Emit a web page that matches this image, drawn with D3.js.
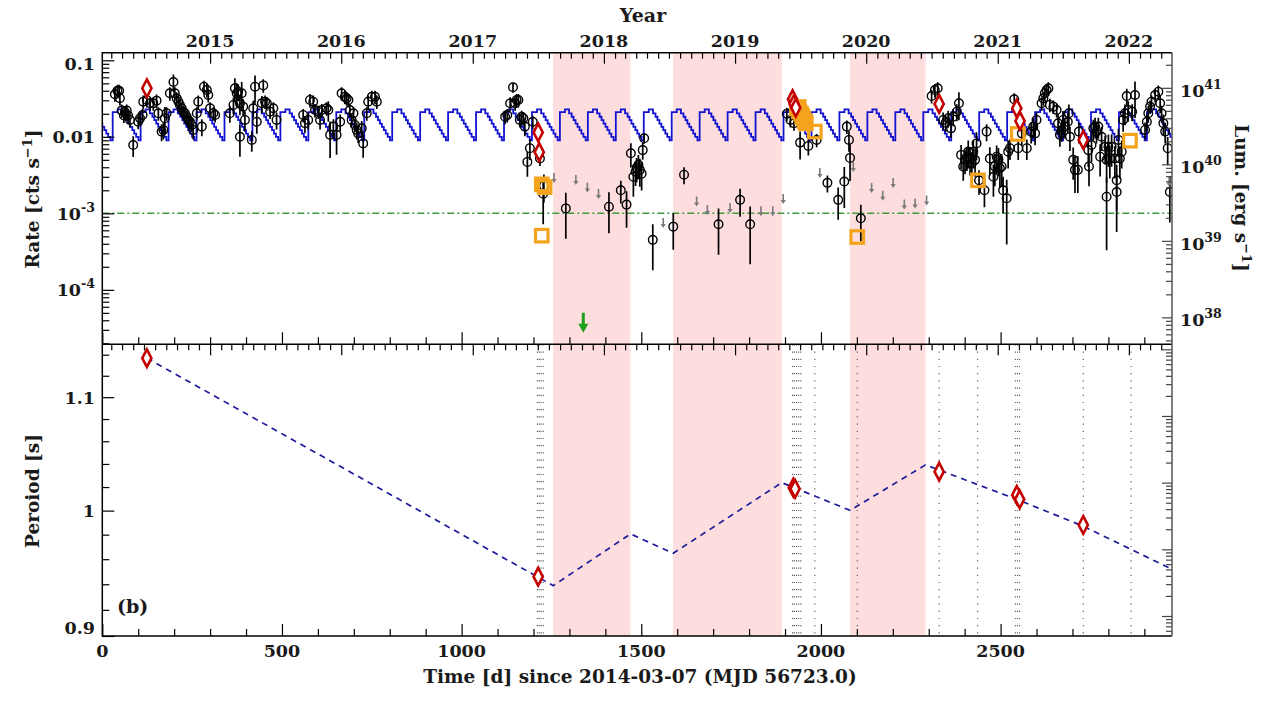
<!DOCTYPE html>
<html><head><meta charset="utf-8">
<script src="https://cdn.jsdelivr.net/npm/d3@7"></script>
<style>
body{margin:0;background:#fff}
svg text{font-family:"DejaVu Serif",serif;font-weight:bold;fill:#1a1a1a}
</style>
</head><body>
<svg id="chart" width="1271" height="704"></svg>
<script>
// ---------------- data ----------------
const dayDomain = [0, 2977];
const rateDomain = [1.941e-5, 0.1257];
const lumDomain = [4.446e37, 2.877e41];
const periodDomain = [0.9, 1.15];
const auxDomain = [0.501, 11885];
const startDateUTC = [2014, 2, 7];
const xMajorTicks = [0, 500, 1000, 1500, 2000, 2500];
const xMinorStep = 100;
const rateMajorTicks = [0.1, 0.01, 1e-3, 1e-4];
const rateTickLabels = ["0.1", "0.01", "10^-3", "10^-4"];
const lumMajorTicks = [1e41, 1e40, 1e39, 1e38];
const lumTickLabels = ["10^41", "10^40", "10^39", "10^38"];
const periodTicks = [0.90,0.92,0.94,0.96,0.98,1.00,1.02,1.04,1.06,1.08,1.10,1.12,1.14];
const periodMajorTicks = [0.9, 1.0, 1.1];
const periodTickLabels = ["0.9", "1", "1.1"];
const thresholdRate = 1e-3;
const shadedIntervals = [[1255,1470],[1589,1891],[2081,2291]];

// [day, rate, relative error]
const detections = [
[35,0.036,.2],[42,0.040,.2],[47,0.040,.2],[49,0.032,.2],[54,0.022,.2],[60,0.019,.2],[63,0.021,.2],[68,0.022,.2],[72,0.019,.2],[77,0.0166,.2],[86,0.0078,.3],[100,0.0157,.2],[105,0.0175,.2],[112,0.0193,.2],[114,0.0288,.2],[124,0.0303,.2],[133,0.0274,.2],[142,0.0274,.2],[151,0.0297,.2],[156,0.0203,.2],[165,0.0117,.25],[170,0.0123,.25],[174,0.0175,.4],[179,0.0203,.2],[188,0.0371,.2],[198,0.052,.25],[202,0.0371,.2],[207,0.0318,.2],[212,0.0288,.2],[216,0.0261,.2],[221,0.0236,.2],[225,0.0213,.2],[230,0.0203,.2],[235,0.0183,.2],[239,0.0166,.2],[244,0.0157,.2],[249,0.0143,.2],[253,0.0123,.25],[263,0.0203,.2],[267,0.0288,.2],[277,0.0136,.25],[283,0.0452,.2],[291,0.0409,.2],[295,0.0352,.2],[300,0.0236,.2],[309,0.0203,.2],[314,0.0193,.2],
[355,0.0203,.25],[365,0.0261,.25],[369,0.0431,.35],[374,0.0371,.35],[378,0.0389,.25],[383,0.0274,.3],[383,0.0100,.45],[388,0.0371,.4],[392,0.0248,.25],[397,0.0166,.3],[416,0.0091,.3],[420,0.0236,.25],[425,0.0452,.4],[430,0.0157,.3],[444,0.0274,.25],[448,0.047,.2],[453,0.0288,.2],[458,0.0274,.2],[467,0.0213,.2],[476,0.0236,.2],[485,0.0166,.25],
[559,0.0193,.2],[564,0.0150,.25],[573,0.0166,.25],[578,0.0303,.2],[587,0.0288,.2],[592,0.0224,.2],[601,0.0213,.2],[606,0.0166,.25],[611,0.0224,.2],[624,0.0236,.2],[629,0.0224,.3],[634,0.0106,.5],[643,0.0136,.25],[652,0.0106,.45],[662,0.0157,.25],[666,0.0371,.2],[675,0.0334,.2],[680,0.0318,.2],[685,0.0303,.2],[689,0.0224,.2],[694,0.0166,.2],[699,0.0203,.2],[703,0.0143,.2],[708,0.0123,.25],[712,0.0111,.25],[722,0.0129,.25],[726,0.0082,.35],[736,0.0203,.2],[740,0.0288,.2],[750,0.0334,.2],[759,0.0334,.2],[764,0.0288,.2],
[1121,0.0183,.2],[1127,0.0193,.2],[1135,0.0274,.2],[1143,0.0444,.15],[1149,0.0274,.2],[1153,0.0303,.2],[1158,0.0303,.2],[1162,0.0166,.2],[1167,0.0183,.2],[1172,0.0175,.2],[1176,0.0136,.25],[1183,0.0047,.36],[1190,0.0071,.3],[1198,0.0157,.2],[1218,0.0052,.2],[1227,0.0018,.6],[1229,0.0023,.4],
[1290,0.00116,.6],[1410,0.00122,.55],[1443,0.0020,.33],[1459,0.0013,.5],[1471,0.0061,.35],[1478,0.0030,.45],[1484,0.0035,.35],[1487,0.0039,.35],[1492,0.0043,.35],[1496,0.0037,.4],[1501,0.0033,.4],[1504,0.0067,.25],[1508,0.00955,.15],[1532,0.00045,.6],[1589,0.00067,.5],[1619,0.0032,.25],[1715,0.00072,.6],[1775,0.0015,.4],[1803,0.00072,.7],
[1905,0.0200,.2],[1915,0.0166,.2],[1925,0.0150,.2],[1942,0.0084,.4],[1965,0.0076,.25],[1988,0.0091,.2],[2018,0.0025,.25],[2048,0.0015,.45],[2065,0.0026,.55],[2072,0.0136,.2],[2078,0.0091,.3],[2081,0.0053,.5],[2111,0.00086,.5],
[2308,0.0341,.2],[2317,0.0409,.2],[2325,0.0431,.2],[2340,0.0166,.25],[2347,0.0153,.25],[2354,0.0175,.25],[2362,0.0129,.25],[2368,0.0183,.25],[2378,0.0213,.25],[2384,0.0274,.4],[2390,0.0058,.35],[2396,0.0041,.35],[2401,0.0050,.35],[2406,0.0055,.35],[2410,0.0064,.4],[2415,0.0052,.4],[2420,0.0045,.4],[2424,0.0064,.4],[2429,0.0050,.4],[2433,0.0082,.4],[2440,0.0027,.35],[2455,0.0020,.4],[2461,0.0117,.25],[2470,0.0052,.4],[2480,0.0030,.45],[2484,0.0041,.45],[2489,0.0055,.4],[2494,0.0051,.4],[2498,0.0039,.45],[2503,0.0041,.45],[2507,0.0020,.5],[2517,0.00157,.75],[2521,0.0064,.4],[2526,0.0071,.3],[2538,0.0309,.2],[2549,0.0071,.3],[2559,0.0111,.3],[2573,0.0071,.3],[2585,0.0117,.3],[2591,0.0136,.3],[2596,0.0111,.3],[2600,0.0166,.25],[2614,0.0274,.2],[2619,0.0318,.2],[2623,0.0371,.2],[2628,0.0409,.2],[2633,0.0431,.2],[2637,0.0261,.2],[2647,0.0248,.2],[2656,0.0224,.2],[2660,0.0150,.3],[2665,0.0106,.3],[2670,0.0123,.3],[2674,0.0166,.3],[2679,0.0136,.3],[2687,0.0157,.3],[2690,0.0203,.3],[2693,0.0100,.35],[2702,0.0050,.45],[2707,0.0037,.5],[2715,0.0037,.5],[2718,0.0117,.3],[2744,0.0067,.4],[2746,0.0041,.45],[2753,0.0078,.4],[2758,0.0129,.3],[2763,0.0136,.3],[2767,0.0117,.3],[2772,0.0136,.3],[2777,0.0055,.45],[2781,0.0100,.35],[2791,0.0074,.4],[2795,0.0050,.5],[2795,0.00165,.8],[2800,0.0074,.45],[2804,0.0052,.45],[2809,0.0074,.45],[2818,0.0052,.45],[2823,0.0027,.6],[2823,0.0019,.7],[2828,0.0091,.4],[2832,0.0052,.45],[2837,0.0064,.4],[2841,0.0166,.3],[2846,0.0203,.3],[2851,0.0341,.25],[2855,0.0224,.3],[2866,0.0213,.25],[2874,0.0352,.5],[2902,0.0123,.25],[2907,0.0157,.25],[2911,0.0203,.25],[2916,0.0248,.2],[2920,0.0288,.2],[2930,0.0352,.2],[2939,0.0389,.2],[2944,0.0274,.25],[2948,0.0203,.25],[2953,0.0150,.3],[2958,0.0117,.3],[2965,0.0071,.4],[2971,0.0019,.6]
];
// upper limits [day, rate]
const upperLimits = [[1257,0.00336],[1318,0.00316],[1350,0.00253],[1381,0.00208],[1561,0.00087],[1654,0.00166],[1684,0.00128],[1747,0.00136],[1833,0.00124],[1866,0.00124],[1895,0.00179],[1997,0.00391],[2090,0.00469],[2141,0.00249],[2172,0.00197],[2201,0.00289],[2232,0.00151],[2262,0.00156],[2294,0.00171],[2969,0.0030]];
// orange squares [day, rate]
const squares = [[1223,0.00239],[1231,0.0022],[1223,0.00051],[1933,0.0235],[1938,0.0245],[1940,0.0215],[1945,0.0200],[1948,0.0185],[1951,0.0175],[1955,0.0160],[1958,0.0150],[1983,0.0117],[2101,0.00049],[2437,0.0027],[2548,0.0109],[2860,0.0089]];
// pulsation detections, rate [day, rate]
const pulsRate = [[124,0.0431],[1213,0.0114],[1216,0.0063],[1921,0.031],[1925,0.027],[1930,0.024],[2329,0.0269],[2545,0.0236],[2554,0.0161],[2730,0.0091]];
// pulsation periods [day, period s]
const periods = [[124,1.1367],[1213,0.9460],[1923,1.0195],[1928,1.0185],[2329,1.0333],[2545,1.0133],[2553,1.0095],[2730,0.988]];
const periodModel = [[124,1.1367],[1255,0.9389],[1470,0.9806],[1589,0.9648],[1891,1.0238],[2081,1.0002],[2291,1.0392],[2545,1.0095],[2730,0.987],[2977,0.9519]];
const obsDays = [1211,1216,1221,1227,1921,1926,1932,1938,1944,1983,2101,2329,2436,2541,2547,2553,2730,2863];
// superorbital model: one cycle of the step curve [phase, rate]
const modelCycleShape = [[0,0.0210],[0.18,0.0228],[0.33,0.0203],[0.42,0.0183],[0.49,0.0165],[0.56,0.0149],[0.63,0.0135],[0.70,0.0122],[0.77,0.0110],[0.84,0.0100],[0.92,0.0090]];
const modelPeriod = 77.79, modelEpoch = 28.9;
const lowLimit = [1338.6, 5e-5];

// ---------------- layout ----------------
const X0 = 102.3, X1 = 1172, YT0 = 52.7, YT1 = 344.3, YB1 = 636;
const svg = d3.select("#chart");
const x = d3.scaleLinear().domain(dayDomain).range([X0, X1]);
const t0 = Date.UTC(...startDateUTC);
const xDate = d3.scaleUtc().domain([new Date(t0), new Date(t0 + dayDomain[1]*864e5)]).range([X0, X1]);
const yR = d3.scaleLog().domain(rateDomain).range([YT1, YT0]);
const yL = d3.scaleLog().domain(lumDomain).range([YT1, YT0]);
const yP = d3.scaleLog().domain(periodDomain).range([YB1, YT1]);
const yA = d3.scaleLog().domain(auxDomain).range([YB1, YT1]);

const defs = svg.append("defs");
defs.append("clipPath").attr("id","clipT").append("rect").attr("x",X0).attr("y",YT0).attr("width",X1-X0).attr("height",YT1-YT0);
defs.append("clipPath").attr("id","clipB").append("rect").attr("x",X0).attr("y",YT1).attr("width",X1-X0).attr("height",YB1-YT1);

const gT = svg.append("g").attr("clip-path","url(#clipT)");
const gB = svg.append("g").attr("clip-path","url(#clipB)");

// shading
[gT, gB].forEach((g,i) => {
  const y0 = i===0 ? YT0 : YT1, y1 = i===0 ? YT1 : YB1;
  g.selectAll("rect.sh").data(shadedIntervals).join("rect").attr("class","sh")
    .attr("x", d => x(d[0])).attr("width", d => x(d[1]) - x(d[0]))
    .attr("y", y0).attr("height", y1 - y0).attr("fill", "#fddddd");
});

// threshold line
gT.append("line").attr("x1",X0).attr("x2",X1).attr("y1",yR(thresholdRate)).attr("y2",yR(thresholdRate))
  .attr("stroke","#3f9a3f").attr("stroke-width",1.4).attr("stroke-dasharray","7,3,2,3");

// superorbital model step curve
const modelPts = [];
for (let k = -1; k <= Math.ceil(dayDomain[1]/modelPeriod)+1; k++) {
  modelCycleShape.forEach(([ph, r]) => modelPts.push([modelEpoch + (k + ph)*modelPeriod, r]));
}
gT.append("path").datum(modelPts)
  .attr("d", d3.line().x(d => x(d[0])).y(d => yR(d[1])).curve(d3.curveStepAfter))
  .attr("fill","none").attr("stroke","#1212d2").attr("stroke-width",1.8);

// detections: error bars + open circles
gT.selectAll("line.err").data(detections).join("line").attr("class","err")
  .attr("x1", d => x(d[0])).attr("x2", d => x(d[0]))
  .attr("y1", d => yR(d[1]*(1+d[2]))).attr("y2", d => yR(Math.max(d[1]*(1-d[2]), 1e-6)))
  .attr("stroke","#000").attr("stroke-width",1.7);
gT.selectAll("circle.det").data(detections).join("circle").attr("class","det")
  .attr("cx", d => x(d[0])).attr("cy", d => yR(d[1])).attr("r", 4.3)
  .attr("fill","none").attr("stroke","#000").attr("stroke-width",1.4);

// upper limits
const ul = gT.selectAll("g.ul").data(upperLimits).join("g").attr("class","ul")
  .attr("transform", d => `translate(${x(d[0])},${yR(d[1])})`);
ul.append("line").attr("y1",0).attr("y2",7).attr("stroke","#7a7a7a").attr("stroke-width",1.6);
ul.append("path").attr("d","M-2.6,6 L2.6,6 L0,10 Z").attr("fill","#7a7a7a");

// low-state limit (green arrow)
const ga = gT.append("g").attr("transform", `translate(${x(lowLimit[0])},${yR(lowLimit[1])})`);
ga.append("line").attr("y1",0).attr("y2",13).attr("stroke","#1ca01c").attr("stroke-width",3);
ga.append("path").attr("d","M-5,11 L5,11 L0,20 Z").attr("fill","#1ca01c");

// orange squares
const sq = 12.5;
gT.selectAll("rect.sq").data(squares).join("rect").attr("class","sq")
  .attr("x", d => x(d[0]) - sq/2).attr("y", d => yR(d[1]) - sq/2).attr("width", sq).attr("height", sq)
  .attr("fill","none").attr("stroke","#f4a31c").attr("stroke-width",3.2);

// diamonds
const diamond = "M0,-8.8 L4.6,0 L0,8.8 L-4.6,0 Z";
gT.selectAll("path.pd").data(pulsRate).join("path").attr("class","pd")
  .attr("transform", d => `translate(${x(d[0])},${yR(d[1])})`).attr("d", diamond)
  .attr("fill","#fff").attr("stroke","#c40000").attr("stroke-width",2.6);

// bottom panel: observation markers
gB.selectAll("line.obs").data(obsDays).join("line").attr("class","obs")
  .attr("x1", d => x(d)).attr("x2", d => x(d)).attr("y1", YT1).attr("y2", YB1)
  .attr("stroke","#555").attr("stroke-width",1.1).attr("stroke-dasharray","1.2,6");
gB.append("path").datum(periodModel)
  .attr("d", d3.line().x(d => x(d[0])).y(d => yP(d[1])))
  .attr("fill","none").attr("stroke","#1c1c9c").attr("stroke-width",1.7).attr("stroke-dasharray","6,5");
gB.selectAll("path.pp").data(periods).join("path").attr("class","pp")
  .attr("transform", d => `translate(${x(d[0])},${yP(d[1])})`).attr("d", diamond)
  .attr("fill","#fff").attr("stroke","#c40000").attr("stroke-width",2.6);

// ---------------- axes ----------------
function ticks(gen, tr, values, size, color) {
  const g = svg.append("g").attr("transform", tr)
    .call(gen.tickValues(values).tickSize(size).tickSizeOuter(0).tickFormat(""));
  g.select(".domain").remove();
  g.selectAll("line").attr("stroke", color).attr("stroke-width", 1.2);
  g.selectAll("text").remove();
}
const isPow10 = v => Math.abs(Math.log10(v) - Math.round(Math.log10(v))) < 1e-6;
const xMinor = d3.range(0, dayDomain[1], xMinorStep).filter(v => !xMajorTicks.includes(v));
const years = d3.utcYear.range(xDate.domain()[0], xDate.domain()[1]);
const months = d3.utcMonth.range(xDate.domain()[0], xDate.domain()[1]).filter(m => m.getUTCMonth() !== 0);

[YT1, YB1].forEach(yy => {
  ticks(d3.axisBottom(x), `translate(0,${yy})`, xMajorTicks, -12, "#000");
  ticks(d3.axisBottom(x), `translate(0,${yy})`, xMinor, -7, "#000");
});
[YT0, YT1].forEach(yy => {
  ticks(d3.axisTop(xDate), `translate(0,${yy})`, years, -11, "#000");
  ticks(d3.axisTop(xDate), `translate(0,${yy})`, months, -6, "#000");
});
const rT = yR.ticks();
ticks(d3.axisLeft(yR), `translate(${X0},0)`, rT.filter(isPow10), -12, "#000");
ticks(d3.axisLeft(yR), `translate(${X0},0)`, rT.filter(v => !isPow10(v)), -7, "#000");
const lT = yL.ticks();
ticks(d3.axisRight(yL), `translate(${X1},0)`, lT.filter(isPow10), -10, "#444");
ticks(d3.axisRight(yL), `translate(${X1},0)`, lT.filter(v => !isPow10(v)), -6, "#444");
ticks(d3.axisLeft(yP), `translate(${X0},0)`, periodMajorTicks, -12, "#000");
ticks(d3.axisLeft(yP), `translate(${X0},0)`, periodTicks.filter(v => !periodMajorTicks.some(m => Math.abs(m-v) < 1e-6)), -7, "#000");
const aT = yA.ticks();
ticks(d3.axisRight(yA), `translate(${X1},0)`, aT.filter(isPow10), -10, "#444");
ticks(d3.axisRight(yA), `translate(${X1},0)`, aT.filter(v => !isPow10(v)), -6, "#444");

// frames
svg.append("path").attr("d", `M${X1},${YT0} L${X0},${YT0} L${X0},${YB1} L${X1},${YB1}`).attr("fill","none").attr("stroke","#000").attr("stroke-width",1.5);
svg.append("line").attr("x1",X0).attr("x2",X1).attr("y1",YT1).attr("y2",YT1).attr("stroke","#000").attr("stroke-width",1.5);
svg.append("line").attr("x1",X1).attr("x2",X1).attr("y1",YT0).attr("y2",YB1).attr("stroke","#555").attr("stroke-width",1.5);

// ---------------- labels ----------------
const FS = 17.5;
function label(txt, xx, yy, anchor, size) {
  const t = svg.append("text").attr("x", xx).attr("y", yy).attr("text-anchor", anchor).attr("font-size", size || FS);
  const [base, exp] = txt.split("^");
  t.append("tspan").text(base);
  if (exp) t.append("tspan").attr("dy", -8).attr("font-size", (size || FS)*0.72).text(exp);
  return t;
}
const clampY = (v, lo, hi) => Math.max(lo, Math.min(hi, v));
rateMajorTicks.forEach((v,i) => label(rateTickLabels[i], 95, clampY(yR(v), YT0+11, YT1-9) + 6.5, "end"));
lumMajorTicks.forEach((v,i) => label(lumTickLabels[i], 1180, yL(v) + 9, "start"));
periodMajorTicks.forEach((v,i) => label(periodTickLabels[i], 95, clampY(yP(v), YT1+11, YB1-9) + 6.5, "end"));
xMajorTicks.forEach(v => label(String(v), x(v), 657, "middle"));
years.forEach(d => label(String(d.getUTCFullYear()), xDate(d), 46.5, "middle"));

label("Year", 643, 22, "middle", 19);
label("Time [d] since 2014-03-07 (MJD 56723.0)", 640, 683, "middle", 18.5);
label("(b)", 117, 613, "start", 19);

function vtitle(parts, xx, yy, rot) {
  const t = svg.append("text").attr("transform", `translate(${xx},${yy}) rotate(${rot})`)
    .attr("text-anchor","middle").attr("font-size",18.5);
  parts.forEach(p => {
    const s = t.append("tspan").text(p.t);
    if (p.sup) s.attr("font-size", 13).attr("dy", -7);
    if (p.after) s.attr("dy", 7);
  });
}
vtitle([{t:"Rate [cts s"},{t:"−1",sup:1},{t:"]",after:1}], 39, 199, -90);
vtitle([{t:"Peroiod [s]"}], 39, 491, -90);
vtitle([{t:"Lum. [erg s"},{t:"−1",sup:1},{t:"]",after:1}], 1235, 198, 90);
</script>
</body></html>
